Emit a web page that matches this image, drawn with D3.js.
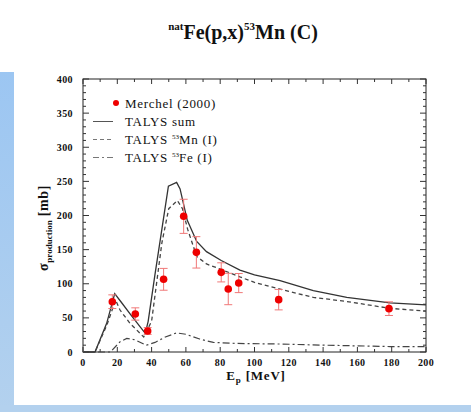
<!DOCTYPE html>
<html><head><meta charset="utf-8">
<script src="https://cdn.jsdelivr.net/npm/d3@7"></script>
<style>html,body{margin:0;padding:0;background:#fff;}svg{display:block;}</style>
</head><body>
<script>
// Experimental data: Merchel (2000)
const expE   = [17.1, 30.5, 37.7, 47.0, 58.7, 66.1, 80.6, 84.7, 90.8, 114.1, 178.4];
const expV   = [73.7, 55.7, 30.8, 106.5, 198.8, 146.0, 116.7, 92.3, 101.0, 76.7, 63.5];
const expErr = [10, 9, 5, 16, 25, 23, 14, 23, 14, 15, 10];

// TALYS sum
const sumE = [0, 7, 13.8, 18.5, 22, 28, 36.3, 38, 42, 46, 49.8, 54.6, 56.6, 60.8, 66.3, 72, 80.6, 91.5, 100, 114.9, 134.3, 153.8, 179, 200];
const sumV = [0, 0, 42, 85.5, 74, 54, 27.3, 45, 114, 180, 243, 248.6, 239, 193, 162, 147, 134, 120, 113, 104.5, 90, 80, 72, 69];
// TALYS 53Mn (I)
const mnE = [0, 7, 14, 19, 21.6, 27.4, 35.4, 40, 46, 50, 55, 58, 61, 66.3, 72, 80.6, 91.5, 100, 114.9, 134.3, 153.8, 179, 200];
const mnV = [0, 0, 40, 76, 61.5, 42, 22, 45, 160, 210, 222, 210, 180, 140, 129, 121, 110, 102, 92, 80, 74, 64, 60];
// TALYS 53Fe (I)
const feE = [0, 16, 21.6, 25.5, 30, 37, 42, 48, 54.6, 60, 68, 76, 90, 115, 140, 179, 200];
const feV = [0, 0, 15, 20, 18, 10, 14, 22, 28, 26, 19, 14, 12.5, 11.7, 10, 8, 7.8];

const xTickLabels = [0, 20, 40, 60, 80, 100, 120, 140, 160, 180, 200];
const yTickLabels = [0, 50, 100, 150, 200, 250, 300, 350, 400];

const W = 471, H = 412;
const svg = d3.select("body").append("svg").attr("width", W).attr("height", H);
const defs = svg.append("defs");
const g1 = defs.append("linearGradient").attr("id","bl").attr("x1","0").attr("y1","0").attr("x2","0").attr("y2","1");
g1.append("stop").attr("offset","0").attr("stop-color","#9cc6f2");
g1.append("stop").attr("offset","1").attr("stop-color","#b3d1ee");

// background panels
svg.append("rect").attr("x",0).attr("y",72).attr("width",14).attr("height",H-72).attr("fill","url(#bl)");
svg.append("rect").attr("x",0).attr("y",405).attr("width",W).attr("height",7).attr("fill","#b3d1ee");

const serif = "'Liberation Serif', 'Times New Roman', serif";

// title
const title = svg.append("text").attr("x", 243).attr("y", 39).attr("text-anchor","middle")
  .attr("font-family", serif).attr("font-weight","bold").attr("font-size", 20).attr("fill","#111");
title.append("tspan").attr("font-size", 11).attr("dy", -9).text("nat");
title.append("tspan").attr("dy", 9).text("Fe(p,x)");
title.append("tspan").attr("font-size", 11).attr("dy", -9).text("53");
title.append("tspan").attr("dy", 9).text("Mn (C)");

const x = d3.scaleLinear().domain([0, 200]).range([83, 426]);
const y = d3.scaleLinear().domain([0, 400]).range([352, 79]);

const axG = svg.append("g").attr("font-family", serif);
// frame
axG.append("rect").attr("x", 83).attr("y", 79).attr("width", 343).attr("height", 273)
  .attr("fill","none").attr("stroke","#222").attr("stroke-width",1);

const xMinor = d3.range(0, 201, 10);
const yMinor = d3.range(0, 401, 10);
const tickStroke = "#333";
// x ticks bottom & top (inward)
axG.selectAll(".xtb").data(xMinor).join("line")
  .attr("x1", d=>x(d)).attr("x2", d=>x(d)).attr("y1", y(0)).attr("y2", d=> y(0) - (d%20===0?5:3))
  .attr("stroke", tickStroke);
axG.selectAll(".xtt").data(xMinor).join("line")
  .attr("x1", d=>x(d)).attr("x2", d=>x(d)).attr("y1", y(400)).attr("y2", d=> y(400) + (d%20===0?5:3))
  .attr("stroke", tickStroke);
// y ticks left & right
axG.selectAll(".ytl").data(yMinor).join("line")
  .attr("y1", d=>y(d)).attr("y2", d=>y(d)).attr("x1", x(0)).attr("x2", d=> x(0) + (d%50===0?6:3))
  .attr("stroke", tickStroke);
axG.selectAll(".ytr").data(yMinor).join("line")
  .attr("y1", d=>y(d)).attr("y2", d=>y(d)).attr("x1", x(200)).attr("x2", d=> x(200) - (d%50===0?6:3))
  .attr("stroke", tickStroke);

// tick labels
axG.selectAll(".xl").data(xTickLabels).join("text")
  .attr("x", d=>x(d)).attr("y", 366).attr("text-anchor","middle").attr("letter-spacing", 0.4)
  .attr("font-size", 10).attr("font-weight","bold").attr("fill","#111").text(d=>d);
axG.selectAll(".yl").data(yTickLabels).join("text")
  .attr("x", 73).attr("y", d=>y(d)+3.5).attr("text-anchor","end").attr("letter-spacing", 0.4)
  .attr("font-size", 10).attr("font-weight","bold").attr("fill","#111").text(d=>d);

// axis titles
const xt = axG.append("text").attr("x", 256).attr("y", 380).attr("text-anchor","middle")
  .attr("font-size", 13).attr("font-weight","bold").attr("letter-spacing", 0.8).attr("fill","#111");
xt.append("tspan").text("E");
xt.append("tspan").attr("font-size", 9).attr("dy", 3).text("p");
xt.append("tspan").attr("dy", -3).text(" [MeV]");

const yt = axG.append("text").attr("transform","translate(48,228) rotate(-90)").attr("text-anchor","middle")
  .attr("font-size", 14).attr("font-weight","bold").attr("letter-spacing", 0.6).attr("fill","#111");
yt.append("tspan").text("σ");
yt.append("tspan").attr("font-size", 9).attr("dy", 4).attr("letter-spacing", 0).text("production");
yt.append("tspan").attr("dy", -4).text(" [mb]");

// curves
const line = d3.line().x(d=>x(d[0])).y(d=>y(d[1]));
const plot = svg.append("g");
plot.append("path").datum(sumE.map((e,i)=>[e,sumV[i]])).attr("d", line)
  .attr("fill","none").attr("stroke","#333").attr("stroke-width",1.3);
plot.append("path").datum(mnE.map((e,i)=>[e,mnV[i]])).attr("d", line)
  .attr("fill","none").attr("stroke","#444").attr("stroke-width",1.3).attr("stroke-dasharray","4,3");
plot.append("path").datum(feE.map((e,i)=>[e,feV[i]])).attr("d", line)
  .attr("fill","none").attr("stroke","#444").attr("stroke-width",1.2).attr("stroke-dasharray","7,3,2,3");

// error bars
const errColor = "#f07878";
const pts = expE.map((e,i)=>({e, v:expV[i], err:expErr[i]}));
const eb = plot.append("g").attr("stroke", errColor).attr("stroke-width",1);
eb.selectAll(".v").data(pts).join("line")
  .attr("x1", d=>x(d.e)).attr("x2", d=>x(d.e)).attr("y1", d=>y(d.v+d.err)).attr("y2", d=>y(d.v-d.err));
eb.selectAll(".t").data(pts).join("line")
  .attr("x1", d=>x(d.e)-4).attr("x2", d=>x(d.e)+4).attr("y1", d=>y(d.v+d.err)).attr("y2", d=>y(d.v+d.err));
eb.selectAll(".b").data(pts).join("line")
  .attr("x1", d=>x(d.e)-4).attr("x2", d=>x(d.e)+4).attr("y1", d=>y(d.v-d.err)).attr("y2", d=>y(d.v-d.err));
plot.selectAll(".pt").data(pts).join("circle")
  .attr("cx", d=>x(d.e)).attr("cy", d=>y(d.v)).attr("r", 3.8).attr("fill","#ee0000");

// legend
const lg = svg.append("g").attr("font-family", serif).attr("font-size", 13).attr("letter-spacing", 0.7).attr("fill","#111");
lg.append("circle").attr("cx",116).attr("cy",103).attr("r",3).attr("fill","#ee0000");
lg.append("text").attr("x",125).attr("y",107.5).text("Merchel (2000)");
lg.append("line").attr("x1",93).attr("x2",113).attr("y1",121.5).attr("y2",121.5).attr("stroke","#555");
lg.append("text").attr("x",125).attr("y",126).text("TALYS sum");
lg.append("line").attr("x1",93).attr("x2",113).attr("y1",139.5).attr("y2",139.5).attr("stroke","#777").attr("stroke-dasharray","4,3");
const l3 = lg.append("text").attr("x",125).attr("y",144);
l3.append("tspan").text("TALYS ");
l3.append("tspan").attr("font-size",7).attr("letter-spacing",0).attr("dy",-5).text("53");
l3.append("tspan").attr("dy",5).text("Mn (I)");
lg.append("line").attr("x1",93).attr("x2",113).attr("y1",157.5).attr("y2",157.5).attr("stroke","#777").attr("stroke-dasharray","6,3,2,3");
const l4 = lg.append("text").attr("x",125).attr("y",162);
l4.append("tspan").text("TALYS ");
l4.append("tspan").attr("font-size",7).attr("letter-spacing",0).attr("dy",-5).text("53");
l4.append("tspan").attr("dy",5).text("Fe (I)");
</script>
</body></html>
